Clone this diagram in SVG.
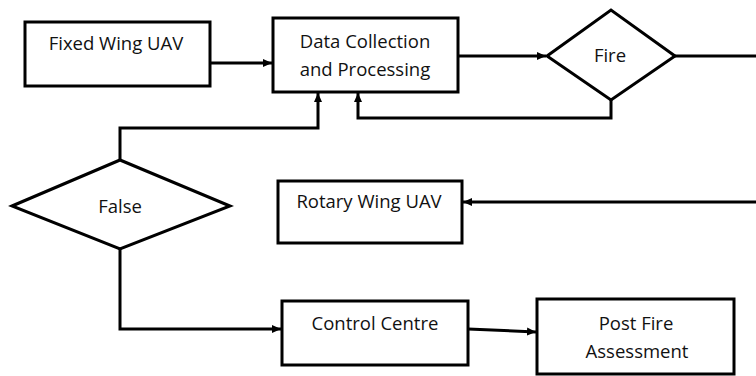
<svg xmlns="http://www.w3.org/2000/svg" width="756" height="376" viewBox="0 0 756 376">
<style>
.box{fill:#fff;stroke:#000;stroke-width:3}
.t{font-family:"Open Sans","Liberation Sans",sans-serif;font-size:18.5px;fill:#111;text-anchor:middle}
.c{fill:none;stroke:#000;stroke-width:3}
</style>
<defs>
<marker id="ah" markerWidth="10" markerHeight="10" refX="9" refY="5" orient="auto" markerUnits="userSpaceOnUse">
<path d="M0,1 L9,5 L0,9 Z" fill="#000"/>
</marker>
</defs>
<rect width="756" height="376" fill="#fff"/>
<g id="connectors">
<path class="c" d="M210,63 H272" marker-end="url(#ah)"/>
<path class="c" d="M458,56 H546" marker-end="url(#ah)"/>
<path class="c" d="M675,56 H756"/>
<path class="c" d="M756,202 H463" marker-end="url(#ah)"/>
<path class="c" d="M611,100 V118 H358 V93" marker-end="url(#ah)"/>
<path class="c" d="M120,160 V128 H318 V93" marker-end="url(#ah)"/>
<path class="c" d="M120,249 V329 H281" marker-end="url(#ah)"/>
<path class="c" d="M468,329 L536,332" marker-end="url(#ah)"/>
</g>
<g id="fixed-wing">
<rect class="box" x="25" y="22" width="185" height="64"/>
<text class="t" x="116" y="50">Fixed Wing UAV</text>
</g>
<g id="data-collection">
<rect class="box" x="273" y="18" width="185" height="74"/>
<text class="t" x="365" y="48">Data Collection</text>
<text class="t" x="365" y="76">and Processing</text>
</g>
<g id="fire">
<polygon class="box" points="547,56 611,10 675,56 611,100"/>
<text class="t" x="610" y="62">Fire</text>
</g>
<g id="false">
<polygon class="box" points="12,206 120,160 230,206 120,249"/>
<text class="t" x="120" y="213">False</text>
</g>
<g id="rotary-wing">
<rect class="box" x="278" y="181" width="184" height="62"/>
<text class="t" x="369" y="208">Rotary Wing UAV</text>
</g>
<g id="control-centre">
<rect class="box" x="282" y="301" width="186" height="64"/>
<text class="t" x="375" y="330">Control Centre</text>
</g>
<g id="post-fire">
<rect class="box" x="537" y="299" width="197" height="75"/>
<text class="t" x="636" y="330">Post Fire</text>
<text class="t" x="637" y="358">Assessment</text>
</g>
</svg>
